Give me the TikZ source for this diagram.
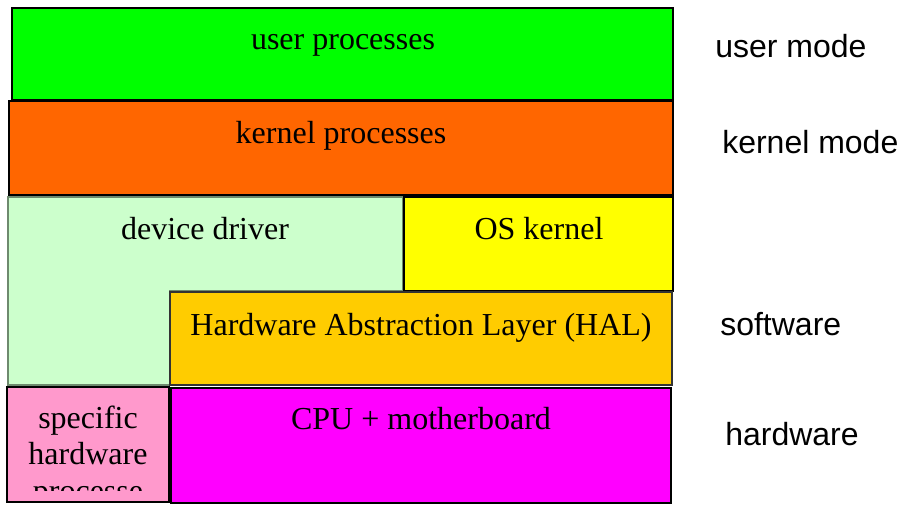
\documentclass[tikz,border=0pt]{standalone}
\usepackage{fontspec}
\setmainfont{Liberation Serif}
\newfontfamily\arialfont{Liberation Sans}
\definecolor{cuser}{HTML}{00FF00}
\definecolor{ckern}{HTML}{FF6600}
\definecolor{cdrv}{HTML}{CCFFCC}
\definecolor{cos}{HTML}{FFFF00}
\definecolor{chal}{HTML}{FFCC00}
\definecolor{cspec}{HTML}{FF99CC}
\definecolor{ccpu}{HTML}{FF00FF}
\definecolor{cdrvline}{HTML}{6E8A6E}
\tikzset{
  layerbox/.style={draw=black, line width=2.2pt},
  thinbox/.style={draw=cdrvline, line width=1.1pt},
  boxtext/.style={anchor=base, inner sep=0pt, font=\fontsize{24}{27.6}\selectfont},
  sidetext/.style={anchor=base west, inner sep=0pt, font=\arialfont\fontsize{24}{27.6}\selectfont},
}
\begin{document}
\begin{tikzpicture}[x=0.75pt,y=-0.75pt]
\useasboundingbox (0,0) rectangle (902,506);
% layers
\path[layerbox, fill=cuser] (12,8) rectangle (673,100);
\path[layerbox, fill=ckern] (9,101) rectangle (673,195);
\path[thinbox, fill=cdrv] (8,197) -- (403,197) -- (403,291) -- (170,291) -- (170,385) -- (8,385) -- cycle;
\path[layerbox, fill=cos] (404,197) rectangle (673,291);
\path[thinbox, draw=black!80, line width=1.6pt, fill=chal] (170,292) rectangle (672,385);
\path[layerbox, line width=1.8pt, fill=cspec] (7,387) rectangle (169,502);
\path[layerbox, fill=ccpu] (171,388) rectangle (671,503);
% texts
\node[boxtext] (up) at (343,50) {user processes};
\node[boxtext] (kp) at (341,144) {kernel processes};
\node[boxtext] (dd) at (205,239) {device driver};
\node[boxtext] (osk) at (539,239) {OS kernel};
\node[boxtext] (hal) at (421,335) {Hardware Abstraction Layer (HAL)};
\node[boxtext] (cpu) at (421,429) {CPU + motherboard};
\begin{scope}
\clip (9,389) rectangle (167,490);
\node[boxtext, text width=160*0.75pt, align=center] (spec) at (88,428) {specific\\hardware\\processe};
\end{scope}
% side labels
\node[sidetext] (um) at (715,58) {user mode};
\node[sidetext] (km) at (722,153) {kernel mode};
\node[sidetext] (sw) at (720,335) {software};
\node[sidetext] (hw) at (725,445) {hardware};
\end{tikzpicture}
\end{document}
